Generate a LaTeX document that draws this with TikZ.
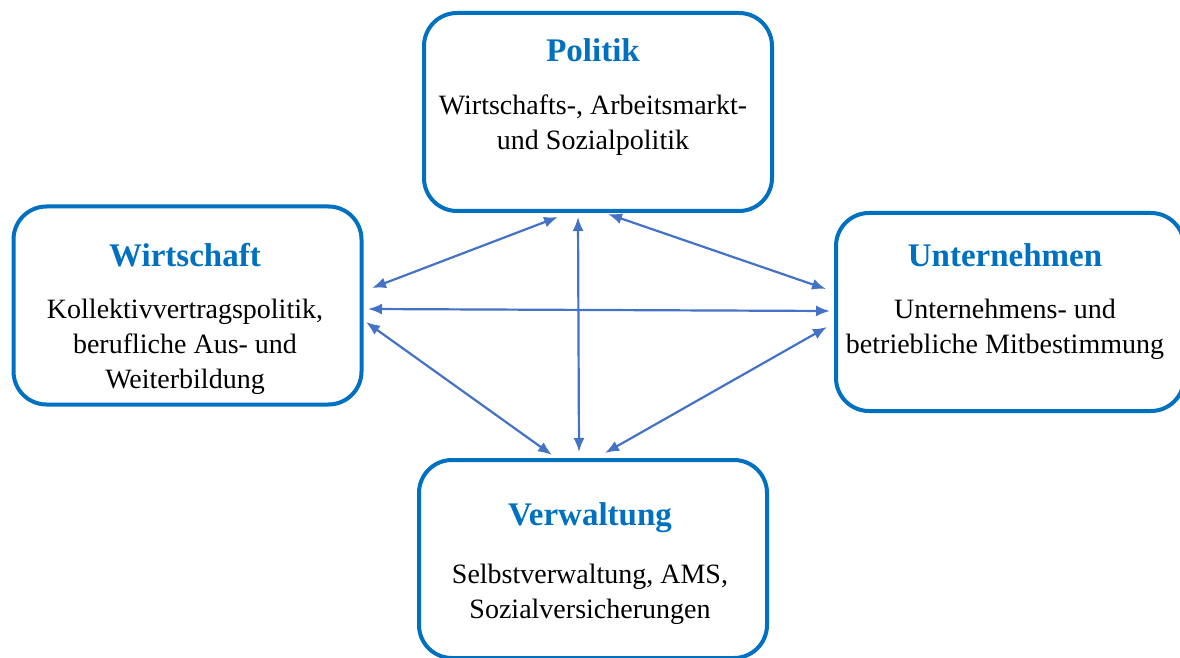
\documentclass[tikz,border=0pt]{standalone}
\usepackage{fontspec}
\setmainfont{Liberation Serif}
\usetikzlibrary{arrows.meta}
\definecolor{boxblue}{HTML}{0070C0}
\definecolor{arrowblue}{HTML}{4472C4}

\begin{document}
\begin{tikzpicture}[x=1pt,y=1pt,
  feld/.style={draw=boxblue, line width=4pt, rounded corners=33pt,
    minimum width=348pt, minimum height=198pt},
  titel/.style={text=boxblue, font=\fontsize{33}{38}\selectfont\bfseries},
  inhalt/.style={align=center, font=\fontsize{28}{35}\selectfont},
  pfeil/.style={arrowblue, line width=2.2pt, {Latex[length=14pt,width=11pt]}-{Latex[length=14pt,width=11pt]}}]

\useasboundingbox (0,0) rectangle (1180,657);

% die vier Bereiche
\node[feld] (pol) at (598,545) {};
\node[feld] (wir) at (187.5,351.5) {};
\node[feld] (unt) at (1010,345) {};
\node[feld] (ver) at (593,98) {};

\node[titel] (polT) at (593,607) {Politik};
\node[inhalt] (polI) at (593,532) {Wirtschafts-, Arbeitsmarkt-\\und Sozialpolitik};

\node[titel] (wirT) at (185,402) {Wirtschaft};
\node[inhalt] (wirI) at (185,310) {Kollektivvertragspolitik,\\berufliche Aus- und\\Weiterbildung};

\node[titel] (untT) at (1005,402) {Unternehmen};
\node[inhalt] (untI) at (1005,327.5) {Unternehmens- und\\betriebliche Mitbestimmung};

\node[titel] (verT) at (590,139) {Verwaltung};
\node[inhalt] (verI) at (590,63) {Selbstverwaltung, AMS,\\Sozialversicherungen};

% Wechselwirkungen
\draw[pfeil] ([shift={(8.5,17.5)}]wir.east) -- ([shift={(-40,-4)}]pol.south);
\draw[pfeil] ([shift={(-20,-4)}]pol.south) -- ([shift={(-14,6)}]ver.north);
\draw[pfeil] ([shift={(10,-1)}]pol.south) -- ([shift={(-8,23)}]unt.west);
\draw[pfeil] ([shift={(4.5,-3.5)}]wir.east) -- ([shift={(-4,1)}]unt.west);
\draw[pfeil] ([shift={(2.5,-16.5)}]wir.east) -- ([shift={(-41,3)}]ver.north);
\draw[pfeil] ([shift={(-7,-15)}]unt.west) -- ([shift={(12,5)}]ver.north);

\end{tikzpicture}
\end{document}
